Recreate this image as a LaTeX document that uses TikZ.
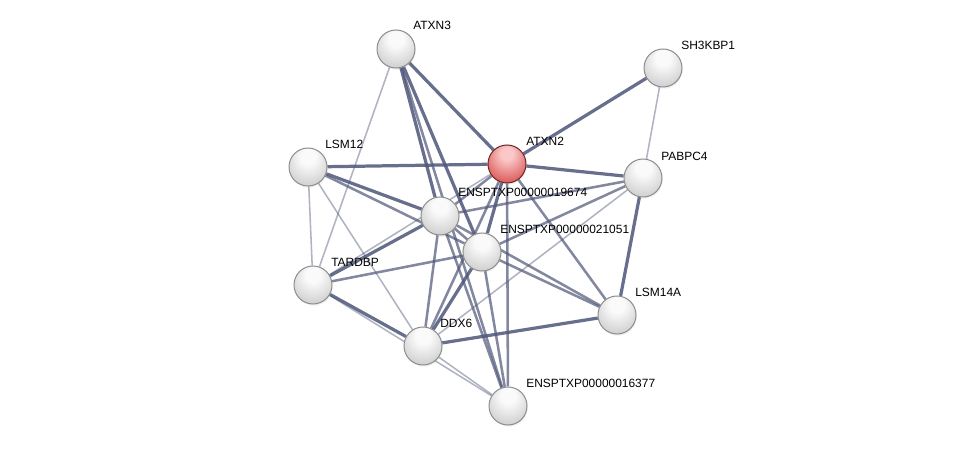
\documentclass[tikz,border=0pt]{standalone}
\usepackage{fontspec}
\setsansfont{Liberation Sans}
\usetikzlibrary{positioning, backgrounds, calc, shadows}

\definecolor{edgeblue}{RGB}{78,86,120}
\definecolor{grayhi}{RGB}{250,250,250}
\definecolor{graymid}{RGB}{212,212,212}
\definecolor{grayrim}{RGB}{160,160,160}
\definecolor{redhi}{RGB}{250,200,200}
\definecolor{redmid}{RGB}{224,100,100}
\definecolor{redrim}{RGB}{175,62,62}

\pgfdeclareradialshading{grayball}{\pgfpoint{0bp}{16bp}}{%
  color(0bp)=(grayhi); color(10bp)=(grayhi); color(30bp)=(graymid); color(44bp)=(graymid); color(50bp)=(grayrim); color(60bp)=(grayrim)}
\pgfdeclareradialshading{redball}{\pgfpoint{0bp}{16bp}}{%
  color(0bp)=(redhi); color(8bp)=(redhi); color(30bp)=(redmid); color(44bp)=(redmid); color(50bp)=(redrim); color(60bp)=(redrim)}

\begin{document}
\begin{tikzpicture}[
    x=0.025cm, y=0.025cm,
    prot/.style={circle, minimum size=0.95cm, inner sep=0pt, shading=grayball, draw=gray!90, line width=0.7pt,
        circular drop shadow={opacity=0.2, shadow xshift=0.4pt, shadow yshift=-1.2pt, shadow scale=1.02}},
    query/.style={prot, shading=redball, draw=redrim!60!black},
    lbl/.style={anchor=base west, inner sep=0pt, font=\sffamily\fontsize{8.5}{10}\selectfont, text=black},
    edgestrong/.style={draw=edgeblue, line width=2.3pt, opacity=0.85},
    edgemid/.style={draw=edgeblue, line width=1.8pt, opacity=0.7},
    edgeweak/.style={draw=edgeblue, line width=1.1pt, opacity=0.45}
]
    \useasboundingbox (0,0) rectangle (976,451);

    % Proteins
    \node[prot]  (atxn3)   at (396,402) {};
    \node[prot]  (sh3kbp1) at (663,383) {};
    \node[query] (atxn2)   at (507,287) {};
    \node[prot]  (lsm12)   at (308,284) {};
    \node[prot]  (pabpc4)  at (643,273) {};
    \node[prot]  (e19674)  at (440,235) {};
    \node[prot]  (e21051)  at (482,199) {};
    \node[prot]  (tardbp)  at (313,166) {};
    \node[prot]  (lsm14a)  at (617,136) {};
    \node[prot]  (ddx6)    at (423,105) {};
    \node[prot]  (e16377)  at (508,45)  {};

    % Labels
    \node[lbl] at ($(atxn3)+(17,19)$)   {ATXN3};
    \node[lbl] at ($(sh3kbp1)+(18,18)$) {SH3KBP1};
    \node[lbl] at ($(atxn2)+(19,18)$)   {ATXN2};
    \node[lbl] at ($(lsm12)+(17,18)$)   {LSM12};
    \node[lbl] at ($(pabpc4)+(18,17)$)  {PABPC4};
    \node[lbl] at ($(e19674)+(18,19)$)  {ENSPTXP00000019674};
    \node[lbl] at ($(e21051)+(18,18)$)  {ENSPTXP00000021051};
    \node[lbl] at ($(tardbp)+(18,18)$)  {TARDBP};
    \node[lbl] at ($(lsm14a)+(18,18)$)  {LSM14A};
    \node[lbl] at ($(ddx6)+(17,18)$)    {DDX6};
    \node[lbl] at ($(e16377)+(18,18)$)  {ENSPTXP00000016377};

    % Interactions
    \begin{scope}[on background layer]
        \foreach \a/\b/\s in {
            atxn3/atxn2/edgestrong, atxn3/e19674/edgestrong, atxn3/e21051/edgestrong,
            atxn3/e16377/edgemid, atxn3/tardbp/edgeweak,
            sh3kbp1/atxn2/edgestrong, sh3kbp1/pabpc4/edgeweak,
            lsm12/atxn2/edgestrong, lsm12/e19674/edgestrong, lsm12/e21051/edgemid,
            lsm12/tardbp/edgeweak, lsm12/ddx6/edgeweak,
            atxn2/pabpc4/edgestrong, atxn2/e19674/edgemid, atxn2/e21051/edgestrong,
            atxn2/e16377/edgemid, atxn2/lsm14a/edgemid, atxn2/ddx6/edgemid,
            atxn2/tardbp/edgeweak,
            pabpc4/e19674/edgemid, pabpc4/e21051/edgemid, pabpc4/ddx6/edgeweak,
            pabpc4/lsm14a/edgestrong,
            e19674/e21051/edgemid, e19674/tardbp/edgestrong, e19674/ddx6/edgemid,
            e19674/e16377/edgemid, e19674/lsm14a/edgemid,
            e21051/tardbp/edgemid, e21051/ddx6/edgestrong, e21051/e16377/edgemid,
            e21051/lsm14a/edgemid,
            tardbp/ddx6/edgestrong, tardbp/e16377/edgeweak,
            ddx6/lsm14a/edgestrong, ddx6/e16377/edgeweak}
            \draw[\s] (\a) -- (\b);
    \end{scope}

\end{tikzpicture}
\end{document}
